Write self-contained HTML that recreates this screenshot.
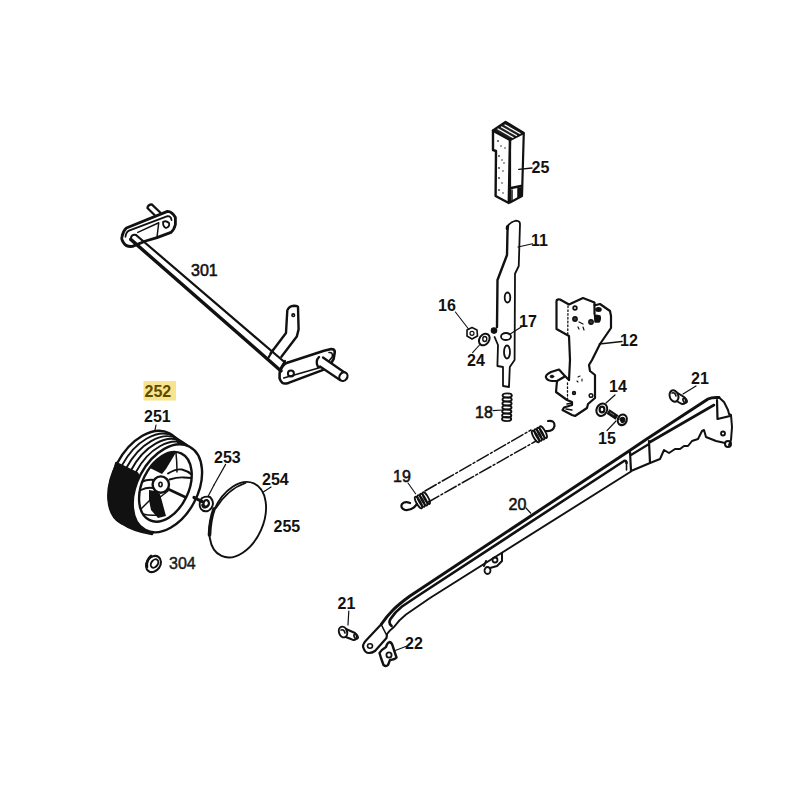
<!DOCTYPE html>
<html><head><meta charset="utf-8">
<style>
html,body{margin:0;padding:0;background:#fff;}
svg{display:block;}
text{font-family:"Liberation Sans",sans-serif;}
</style></head>
<body>
<svg width="800" height="800" viewBox="0 0 800 800">
<rect width="800" height="800" fill="#fff"/>
<g fill="none" stroke="#111" stroke-width="1.6" stroke-linecap="round" stroke-linejoin="round">

<!-- ===== AXLE 301 ===== -->
<g id="axle">
  <!-- left stub pin -->
  <path d="M154.8,215.3 L147.4,208 Q148,204.5 151.75,204.4 L160.5,212.7" stroke-width="2.2"/>
  <!-- left plate -->
  <path d="M126.4,228 L167.5,211.4 Q172,211.5 175.4,217.5 L175.4,224.5 Q174,230 171,232.4 L157,237.6 L145.6,241 L132.5,246.4 Q126,247 123.75,243 Q121,239 122,236.75 Q123,231 126.4,228 Z" stroke-width="2.8"/>
  <path d="M125.5,236.75 Q126,232 129,230.6 L167.5,216.2 Q171,216 171.5,220" stroke-width="1.8"/>
  <path d="M137.75,232.4 L158.75,222.75 L157,237" stroke-width="1.5"/>
  <path d="M163,222 Q166,220 169,223 Q170,227 166,228 Q163,227 163,222" stroke-width="1.8"/>
  <!-- axle shaft -->
  <path d="M136,235 L285,362.5" stroke-width="2.2"/>
  <path d="M130.75,239.4 L281,371" stroke-width="3.4"/>
  <path d="M136,235 Q131,234 130.75,239.4" stroke-width="2"/>
  <!-- vertical bracket arm -->
  <path d="M270.7,353.2 L286,333 L287.3,310.4 Q289,306 294,305.7 Q298,306 298,307 L298.6,329.4 L296.8,336.6 L281.4,356.75" stroke-width="2.4"/>
  <circle cx="293.25" cy="315.2" r="1.3" stroke-width="1.6"/>
  <path d="M273,350 L268.5,357.5 M285,361 L280.5,368.5" stroke-width="2.2"/>
  <!-- right plate -->
  <path d="M287.3,362.7 L324,350.8 L331.25,349 Q334.8,349 334.8,352 L333.6,359 Q331,365 326.5,368.6 L288.5,382.9 Q284,384 282.6,382.9 Q279,380 279.6,375.75 Q279.5,371 280.8,369.8 Q283,364 287.3,362.7" stroke-width="2.6"/>
  <path d="M283.75,378 L324.7,366.25 L332.4,356.75 Q333,352 329,352.5" stroke-width="1.6"/>
  <circle cx="290.9" cy="373.4" r="3" stroke-width="2"/>
  <!-- stub pin right -->
  <path d="M323,357.5 L346,373.5 L340,380 L320,366.5 Z" fill="#fff" stroke="none"/>
  <path d="M323,357.5 L346,373.5 M320,366.5 L340,380" stroke-width="2.2"/>
  <ellipse cx="343.4" cy="376.6" rx="3.8" ry="4.6" transform="rotate(35 343.4 376.6)" fill="#fff" stroke-width="2.2"/>
  <path d="M319,357 Q315,361 318,367" stroke-width="2.4"/>
</g>

<!-- ===== WHEEL 251 ===== -->
<defs>
  <clipPath id="tread"><polygon points="95,400 230,400 230,480 136,473 113,462 95,462"/></clipPath>
  <clipPath id="band"><polygon points="95,458 113,462 137,473 137,530 95,530"/></clipPath>
</defs>
<g id="wheel">
  <!-- tire body: back ellipse + bottom tangent region -->
  <ellipse cx="145.4" cy="478.3" rx="32" ry="51" transform="rotate(28.1 145.4 478.3)" fill="#fff" stroke-width="2.4"/>
    <g clip-path="url(#tread)">
    <ellipse cx="163.0" cy="486.3" rx="30.6" ry="47.9" transform="rotate(28.1 163.0 486.3)" stroke-width="1.9"/>
    <ellipse cx="158.6" cy="484.3" rx="30.9" ry="48.7" transform="rotate(28.1 158.6 484.3)" stroke-width="1.9"/>
    <ellipse cx="154.2" cy="482.3" rx="31.3" ry="49.4" transform="rotate(28.1 154.2 482.3)" stroke-width="1.9"/>
    <ellipse cx="149.8" cy="480.3" rx="31.6" ry="50.2" transform="rotate(28.1 149.8 480.3)" stroke-width="1.9"/>
    
  </g>
  <path d="M116,462.5 L113.4,471.3 L110.7,479.5 L108.9,487.7 L108.3,495.7 L108.9,503.1 L110.5,509.7 L113.2,515.4 L116.8,520 L121.4,523.3 Q132,531 152,534.5 L162,520 L137.5,473 Z" fill="#111" stroke="#111" stroke-width="1.6"/>
  <!-- front face outer ellipse -->
  <ellipse cx="167.4" cy="488.3" rx="30.2" ry="47.1" transform="rotate(28.1 167.4 488.3)" fill="#fff" stroke-width="2.4"/>
  <!-- inner opening -->
  <ellipse cx="165.4" cy="486.8" rx="23.3" ry="36.9" transform="rotate(25.3 165.4 486.8)" stroke-width="2.4"/>
  <!-- spokes -->
  <path d="M150,468 Q152,462 156,460 L168,453 L176,452.5 L166,469 L162,474 Z" fill="#111" stroke="none"/>
  <path d="M149,490 L155,491 L160,494 L163,505 L166,516 L158,518 L151,510 L149,500 Z" fill="#111" stroke="none"/>
  <path d="M168,473.5 Q176,468.5 182,469.5 Q188,471 191.5,474.5 M169.5,479.5 Q178,477 184,477.5 L191.5,478" stroke-width="1.9"/>
  <path d="M176,453 Q177,462 177,472" stroke-width="1.5"/>
  <path d="M168,489 L185,497" stroke-width="2.6"/>
  <path d="M154,480 Q147,479 142,482 M153,488 Q147,487 141,490" stroke-width="1.8"/>
  <path d="M141,509 L152,498 M159,498 L168,491" stroke-width="1.5"/>
  <path d="M143,514 Q150,516 158,515" stroke-width="1.5"/>
  <circle cx="160.8" cy="484.6" r="8.2" fill="#fff" stroke-width="2.4"/>
  <ellipse cx="160.5" cy="484.5" rx="1.6" ry="2.2" stroke-width="1.6"/>
  <path d="M156,425 L155,430" stroke-width="1.2"/>
</g>

<!-- ===== 253 nut / 254 cap ===== -->
<path d="M214,485 L208,496.5" stroke-width="1.2"/>
<path d="M225.6,464.4 L214,485" stroke-width="1.2"/>
<path d="M194,497.5 L202,501.5" stroke-width="3.2" stroke-dasharray="1.6 1"/>
<path d="M202,498 Q206,496 210,497 Q213,500 213,504 Q212,509 208,511 Q203,512 201,509 Q199,506 200,502 Q201,499 202,498 Z" stroke-width="1.9"/>
<path d="M203.5,503 Q204,500 207,500 Q209,501 209,503.5 Q208.5,506.5 205.5,507 Q203,506 203.5,503" stroke-width="2.2"/>
<path d="M202.5,505 Q203,508 206,507" stroke-width="2.6"/>
<ellipse cx="237.7" cy="519.7" rx="25.5" ry="39.7" transform="rotate(24 237.7 519.7)" stroke-width="1.9"/>
<path d="M216,508 Q228,489 245.5,483" stroke-width="1.7"/>
<path d="M214,509 Q210,520 209.5,535" stroke-width="3.6"/>
<path d="M271,487 L262.5,492.5" stroke-width="1.2"/>

<!-- washer 304 -->
<ellipse cx="153.5" cy="564" rx="6.8" ry="8.6" transform="rotate(35 153.5 564)" stroke-width="2.1"/>
<ellipse cx="154.5" cy="563.5" rx="3.2" ry="4.6" transform="rotate(35 154.5 563.5)" stroke-width="1.9"/>
<path d="M147,567 Q146,560 151,556" stroke-width="2.6"/>

<!-- ===== 25 ===== -->
<g id="p25">
  <path d="M493,130.6 L505.6,122 L523.75,133 L510,140 Z" fill="#222" stroke-width="2.4"/>
  <path d="M498,129 L513,137.5 M501.5,127 L516.5,135.5 M505,125 L520,133.5" stroke="#fff" stroke-width="1.3"/>
  <path d="M493,130.6 L493,150 L496,151 L495.6,196 L508.75,203 L510,140" stroke-width="2.4"/>
  <path d="M510,140 L510,202.5 L522,196 L523.75,134" stroke-width="2.2"/>
  <path d="M511,188 L521,186" stroke-width="2.4"/>
  <path d="M518,188 L521,188 L521,196 L518,197 Z" fill="#111" stroke-width="1.5"/>
  <path d="M512,190 L512,201" stroke-width="1.5"/>
  <g fill="#333" stroke="none">
    <circle cx="498" cy="141" r="0.9"/><circle cx="501" cy="146" r="0.8"/><circle cx="499" cy="156" r="0.9"/>
    <circle cx="502" cy="160" r="0.8"/><circle cx="499" cy="168" r="0.9"/><circle cx="503" cy="171" r="0.8"/>
    <circle cx="499" cy="178" r="0.9"/><circle cx="502" cy="183" r="0.8"/><circle cx="499" cy="190" r="0.9"/>
    <circle cx="503" cy="193" r="0.8"/><circle cx="505" cy="148" r="0.8"/><circle cx="504" cy="163" r="0.8"/>
  </g>
  <path d="M518.75,169.4 L532,168" stroke-width="1.4"/>
</g>

<!-- ===== 11 ===== -->
<g id="p11">
  <path d="M507.5,226.5 Q510,222 516,220.6 Q520,221 520,224 L518.75,266 L515,273.75 L514.6,360 L509.8,367 L509,387 L503,386 L503,367 L497.4,366 L498,345 L494.6,337" stroke-width="1.8"/>
  <path d="M507,229 Q506.5,226.5 508,226 L507.5,231 L507,255 L497.5,280 L497,327" stroke-width="2.4"/>
  <circle cx="494" cy="330.6" r="2.5" fill="#111"/>
  <ellipse cx="507.5" cy="297.5" rx="2.8" ry="5" stroke-width="1.8"/>
  <ellipse cx="507" cy="352" rx="3" ry="6.5" stroke-width="1.8"/>
  <ellipse cx="506" cy="336.5" rx="5" ry="3.5" stroke-width="1.8"/>
  <path d="M518,247 L532.5,243.75" stroke-width="1.2"/>
  <path d="M509,334.7 L522,326.5" stroke-width="1.2"/>
</g>
<!-- 16 nut, 24 washer -->
<path d="M455.4,312 L468.5,329" stroke-width="1.1"/>
<path d="M467,330 L472,327.5 L477,330 L477.5,336 L472,339 L467,336 Z" stroke-width="1.6"/>
<circle cx="472" cy="333.3" r="2" stroke-width="1.2"/>
<ellipse cx="484.3" cy="339.5" rx="4.8" ry="6.3" transform="rotate(35 484.3 339.5)" stroke-width="2"/>
<ellipse cx="484.8" cy="339" rx="2" ry="2.5" stroke-width="1.4"/>
<path d="M472.6,352.6 L479.5,345" stroke-width="1.1"/>

<!-- 18 spring -->
<ellipse cx="507.2" cy="395.5" rx="4.6" ry="2.1" stroke-width="1.9"/>
<ellipse cx="507.1" cy="399.5" rx="4.6" ry="2.1" stroke-width="1.9"/>
<ellipse cx="507.0" cy="403.5" rx="4.6" ry="2.1" stroke-width="1.9"/>
<ellipse cx="506.9" cy="407.5" rx="4.6" ry="2.1" stroke-width="1.9"/>
<ellipse cx="506.8" cy="411.5" rx="4.6" ry="2.1" stroke-width="1.9"/>
<ellipse cx="506.7" cy="415.5" rx="4.6" ry="2.1" stroke-width="1.9"/>
<ellipse cx="506.6" cy="419" rx="4.6" ry="2.1" stroke-width="1.9"/>
<path d="M493,410.6 L502.5,410" stroke-width="1.1"/>

<!-- ===== 12 bracket ===== -->
<g id="p12">
  <path d="M557,300 Q558,299 560,299.5 L569,304.5 L583,298 L594.5,302.5 L594.5,305 L596,305 L600,304 L610,311 L611,316 L611,328 L600,344 L592,360 L589,365 L590,371 L595,375 L595,398 L588,404 L587,408 L575,416 L572,415 L562.5,410 L564,407.5 L572,405 L572,402 L567,400 L556,392 L557,381" stroke-width="2.2"/>
  <path d="M569,380 L570,360 L569,336 L556.5,329 L556.5,301 Q556.5,300 557,300" stroke-width="2.2"/>
  <path d="M569,380 L564,375 L559,369.5 L551,372 Q545,375 546,377.5 Q547,380.5 552,381 L557,381 L564,377" stroke-width="2.2"/>
  <ellipse cx="552" cy="376.5" rx="1.8" ry="1.3" fill="#111" stroke-width="1"/>
  <path d="M568,306 L567.75,335 M567.5,383 L567.5,399" stroke-width="1.3" stroke-dasharray="1.6 2.2"/>
  <path d="M594.5,305 L594.5,314" stroke-width="2.2"/>
  <circle cx="575" cy="308" r="1.8" stroke-width="1.8"/>
  <circle cx="575" cy="319" r="2.2" fill="#333" stroke-width="1.4"/>
  <circle cx="591" cy="322" r="2.2" fill="#333" stroke-width="1.4"/>
  <ellipse cx="598.5" cy="309.5" rx="2.6" ry="1.8" fill="#111" stroke-width="1.4"/>
  <path d="M594.5,315 L600,316 Q601,320 599,322 L595,322 Z" fill="#111" stroke-width="1.4"/>
  <path d="M579,322 L583,324 M584,330 L583,327 M578,327 L579,329" stroke-width="1.2"/>
  <path d="M578,377 L580,376 M582,379 L582,381 M577,381 L578,382" stroke-width="1.1"/>
  <circle cx="574" cy="393" r="1.6" fill="#333" stroke-width="1.2"/>
  <circle cx="591" cy="395.5" r="1.8" stroke-width="1.5"/>
  <path d="M567,404 L572,403 M566,409 L572,410" stroke-width="1.5"/>
  <path d="M599.4,344 L622,341.5" stroke-width="1.4"/>
</g>
<!-- 14 washer, 15 screw -->
<ellipse cx="601.8" cy="409.7" rx="5.2" ry="6.4" transform="rotate(25 601.8 409.7)" stroke-width="2"/>
<ellipse cx="602" cy="409.5" rx="2.4" ry="2.8" stroke-width="2.2"/>
<path d="M606,403 L615,395" stroke-width="1.2"/>
<path d="M608,411.5 L617,417.5" stroke="#111" stroke-width="5.2" stroke-linecap="butt"/>
<path d="M610,412.5 L614,415" stroke="#777" stroke-width="1"/>
<ellipse cx="622.3" cy="419.8" rx="4.4" ry="5.4" transform="rotate(20 622.3 419.8)" fill="#fff" stroke-width="2.2"/>
<path d="M620,419 Q622,416.5 624.5,418.5 Q625,422 622,422.5 Z" fill="#111" stroke-width="1.6"/>
<path d="M616,421 L607,430.6" stroke-width="1.2"/>

<!-- 21 upper screw -->
<path d="M676,392 L684,397 Q687,400 685,403 Q683,405 680,403 L673,399" stroke-width="2"/>
<ellipse cx="685" cy="400.5" rx="1.8" ry="2.6" transform="rotate(-30 685 400.5)" stroke-width="1.6"/>
<ellipse cx="674" cy="396" rx="4.3" ry="5.8" transform="rotate(-20 674 396)" fill="#fff" stroke-width="2"/>
<path d="M672,393 Q675,392 676,396" stroke-width="1.6"/>
<path d="M683,394 L696,386" stroke-width="1.2"/>

<!-- ===== 19 spring ===== -->
<path d="M425,491 L531,430" stroke-width="1.5" stroke-dasharray="13 2.5 2 2.5"/>
<path d="M427.5,502.5 L536,441" stroke-width="1.5" stroke-dasharray="13 2.5 2 2.5"/>
<ellipse cx="535.5" cy="436.5" rx="2" ry="6.6" transform="rotate(-29.3 535.5 436.5)" stroke-width="1.8"/>
<ellipse cx="538.1" cy="435.0" rx="2" ry="6.6" transform="rotate(-29.3 538.1 435.0)" stroke-width="1.8"/>
<ellipse cx="540.7" cy="433.6" rx="2" ry="6.6" transform="rotate(-29.3 540.7 433.6)" stroke-width="1.8"/>
<ellipse cx="543.3" cy="432.1" rx="2" ry="6.6" transform="rotate(-29.3 543.3 432.1)" stroke-width="1.8"/>
<path d="M545.5,431 Q553,432 554.5,426 Q555,420 548,421" stroke-width="2.2"/>
<ellipse cx="418.5" cy="502.5" rx="2" ry="6.6" transform="rotate(-29.3 418.5 502.5)" stroke-width="1.8"/>
<ellipse cx="421.1" cy="501.0" rx="2" ry="6.6" transform="rotate(-29.3 421.1 501.0)" stroke-width="1.8"/>
<ellipse cx="423.7" cy="499.6" rx="2" ry="6.6" transform="rotate(-29.3 423.7 499.6)" stroke-width="1.8"/>
<ellipse cx="426.3" cy="498.1" rx="2" ry="6.6" transform="rotate(-29.3 426.3 498.1)" stroke-width="1.8"/>
<path d="M417,504 Q412,511 405,510 Q400,508 402,504 Q405,501 410,503" stroke-width="2.2"/>
<path d="M408,483 L415.6,493.75" stroke-width="1.1"/>

<!-- ===== 20 handle ===== -->
<g id="p20">
  <!-- top thick edge -->
  <path d="M381.5,624 Q387,616 393,610 Q399,604 410,596 L629,451 L646,439.6 L708,399 Q712,397 719,397.5" stroke-width="3"/>
  <!-- second line (channel top) -->
  <path d="M391.6,626 Q388,623 390.5,619 Q395,612 402,606.5 L420,594.5 L624,461 Q626.5,460 626.5,463" stroke-width="2.6"/>
  <path d="M626.5,462 L626.5,470" stroke-width="1.6"/>
  <path d="M650,442 L714,405" stroke-width="2.6"/>
  <!-- bottom line -->
  <path d="M387,634 Q390,630 394,627 Q399,620 406,614.5 L430,598 L631,471.5" stroke-width="1.9"/>
  <!-- lower tab -->
  <path d="M381.5,624 L365.75,640.75 Q362,645 363.5,648 Q365,653 369,653 Q372,653 375,651 L386.5,638 L387,634" stroke-width="2.2"/>
  <ellipse cx="370" cy="646" rx="2.5" ry="2.2" stroke-width="1.6"/>
  <path d="M381.5,625 L384,630 L386,634" stroke-width="1.6"/>
  <!-- grip band -->
  <path d="M630,452 L631,471 M649,441 L650,463 M631,471 L650,463 M631,455 L649,444" stroke-width="2.2"/>
  <!-- grip teeth & end -->
  <path d="M650,463 L660,459 L664,450 L669,453 L675,449 L680,449 L684,446 L688,446 L692,441 L698,439 L702,431 L704,430 L706,437 L716,441 L725,443" stroke-width="2"/>
  <path d="M719,397.5 L724,402 L728,410 L729,414 L731,415 L732,427 L731,440 L729,445" stroke-width="2"/>
  <path d="M717,400 L717.5,419 M717.5,419 L730,416" stroke-width="2.2"/>
  <circle cx="723" cy="433.5" r="2" stroke-width="1.8"/>
  <circle cx="728" cy="444" r="3" stroke-width="2"/>
  <!-- under bracket -->
  <path d="M502,553 L502,561 L497,566 L490,568 M486,561 L484,566" stroke-width="2"/>
  <ellipse cx="487.5" cy="570.5" rx="3" ry="3.5" stroke-width="1.8"/>
  <circle cx="495" cy="560" r="2.5" stroke-width="1.8"/>
  <path d="M526,508 L530.6,513" stroke-width="1.2"/>
</g>
<!-- 21 lower screw -->
<path d="M346,629 L355,633 Q358,636 356,639 Q354,641 351,639 L343,636" stroke-width="2"/>
<ellipse cx="356" cy="636.5" rx="1.8" ry="2.6" transform="rotate(-30 356 636.5)" stroke-width="1.6"/>
<ellipse cx="343" cy="632" rx="4" ry="5.5" transform="rotate(-20 343 632)" fill="#fff" stroke-width="2"/>
<path d="M341,630 Q344,629 345,633" stroke-width="1.6"/>
<path d="M348.8,611 L348,625" stroke-width="1.2"/>
<!-- 22 clip -->
<path d="M389.5,642 Q392,642.5 393,647 L396.5,657.5 Q395,659.5 390,660 L388,665 Q386,667 383.5,665 L381,658 L379.5,653 Q381,650 386,647 Q387,643 389.5,642 Z" stroke-width="2.4"/>
<circle cx="389" cy="655" r="2.6" stroke-width="1.8"/>
<path d="M394,651 L407,646" stroke-width="1.2"/>

</g>

<!-- ===== LABELS ===== -->
<rect x="143.5" y="381" width="32.5" height="19.5" fill="#f7e48c"/>
<g font-weight="bold" font-size="16" fill="#111">
  <text x="144.5" y="397" fill="#5e4b02">252</text>
  <text x="144" y="421.5">251</text>
  <text x="214" y="462.5">253</text>
  <text x="262" y="485">254</text>
  <text x="273.5" y="531.5">255</text>
  <text x="531.5" y="172.5">25</text>
  <text x="531" y="245.6">11</text>
  <text x="438" y="311.3">16</text>
  <text x="519" y="327">17</text>
  <text x="467" y="365.6">24</text>
  <text x="620" y="345.6">12</text>
  <text x="609" y="392">14</text>
  <text x="598" y="444">15</text>
  <text x="691" y="384">21</text>
  <text x="337.5" y="609">21</text>
  <text x="405" y="649">22</text>
</g>
<g font-size="16" fill="#111" stroke="#111" stroke-width="0.55">
  <text x="191" y="276.3">301</text>
  <text x="169" y="568.5" fill="#1a1a1a" stroke="#1a1a1a" stroke-width="0.45">304</text>
  <text x="475" y="417.5">18</text>
  <text x="393" y="482">19</text>
  <text x="508.5" y="510">20</text>
</g>
</svg>
</body></html>
